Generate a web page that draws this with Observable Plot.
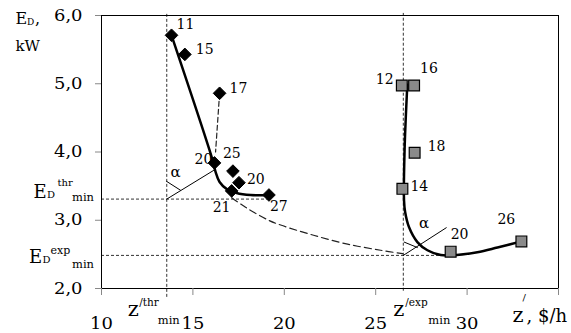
<!DOCTYPE html>
<html>
<head>
<meta charset="utf-8">
<script src="https://cdn.jsdelivr.net/npm/d3@7"></script>
<script src="https://cdn.jsdelivr.net/npm/@observablehq/plot@0.6"></script>
<style>
  html, body { margin: 0; padding: 0; background: #fff; }
  svg { display: block; }
</style>
</head>
<body>
<div id="chart"></div>
<script>
// ---- data ----
const diamondLabels = ["11", "15", "17", "20", "25", "20", "21", "27"];
const diamondX = [13.83, 14.56, 16.46, 16.18, 17.19, 17.52, 17.12, 19.16];
const diamondY = [5.71, 5.43, 4.86, 3.84, 3.72, 3.55, 3.43, 3.37];

const squareLabels = ["12", "16", "18", "14", "20", "26"];
const squareX = [26.43, 27.10, 27.13, 26.46, 29.10, 32.97];
const squareY = [4.975, 4.975, 3.99, 3.46, 2.54, 2.69];

// fitted solid curve (thr)
const thrCurveX = [13.83, 16.08, 16.24, 16.46, 16.84, 17.39, 18.16, 19.14];
const thrCurveY = [5.71, 3.88, 3.71, 3.56, 3.46, 3.40, 3.37, 3.37];
// fitted solid curve (exp)
const expCurveX = [26.73, 26.58, 26.55, 26.61, 26.82, 27.28, 27.83, 28.56, 29.10, 30.56, 31.66, 32.97];
const expCurveY = [4.985, 4.03, 3.29, 3.12, 2.90, 2.68, 2.56, 2.49, 2.485, 2.53, 2.60, 2.69];
// dashed curves
const dash17X = [16.46, 16.24];
const dash17Y = [4.86, 4.00];
const dashCurveX = [17.12, 17.88, 19.14, 19.80, 21.60, 23.46, 25.27, 26.47];
const dashCurveY = [3.33, 3.19, 3.00, 2.93, 2.78, 2.65, 2.56, 2.51];

// reference values
const zThr = 13.57, zExp = 26.51, EThr = 3.31, EExp = 2.485;
// angle construction lines
const alpha1X = [13.57, 16.13], alpha1Y = [3.31, 3.73];
const arc1X = [13.56, 14.32], arc1Y = [3.57, 3.44];
const alpha2X = [26.51, 28.86], alpha2Y = [2.485, 2.89];
const arc2X = [26.56, 27.28], arc2Y = [2.68, 2.60];
const alphaTextX = [14.05, 27.64], alphaTextY = [3.71, 2.95];

// ticks
const xTicks = [10, 15, 20, 25, 30, 35];
const xTickLabels = ["10", "15", "20", "25", "30", ""];
const yTicks = [2, 3, 4, 5, 6];
const yTickLabels = ["2,0", "3,0", "4,0", "5,0", "6,0"];

// texts
const yTitle = ["E", "D", ",", "kW"];
const thrLabel = ["E", "D", "thr", "min"];
const expLabel = ["E", "D", "exp", "min"];
const zThrLabel = ["z", "/thr", "min"];
const zExpLabel = ["z", "/exp", "min"];
const xTitle = ["z", "/", ", $/h"];

// ---- layout (pixel offsets of labels) ----
const diamondDx = [5, 11, 10, -20, -10, 8, -19, 1];
const diamondDy = [-11, -5, -5, -3, -18, -3, 17, 12];
const squareDx = [-26, 6, 13, 8, 0, -24];
const squareDy = [-6, -17, -6, -2, -17, -22];

const diamonds = diamondLabels.map((l, i) => ({x: diamondX[i], y: diamondY[i], l, dx: diamondDx[i], dy: diamondDy[i]}));
const squares = squareLabels.map((l, i) => ({x: squareX[i], y: squareY[i], l, dx: squareDx[i], dy: squareDy[i]}));
const pts = (xs, ys) => xs.map((x, i) => ({x, y: ys[i]}));

function part(xv, yv, txt, dx, dy, size) {
  return Plot.text([txt], {x: xv, y: yv, text: d => d, dx, dy, fontSize: size,
    textAnchor: "start", lineAnchor: "bottom", fill: "#000"});
}

const labelMarks = [];
diamonds.forEach(d => labelMarks.push(Plot.text([d], {x: "x", y: "y", text: "l", dx: d.dx, dy: d.dy, fontSize: 14, textAnchor: "start", fill: "#000"})));
squares.forEach(d => labelMarks.push(Plot.text([d], {x: "x", y: "y", text: "l", dx: d.dx, dy: d.dy, fontSize: 14, textAnchor: "start", fill: "#000"})));

const plot = Plot.plot({
  width: 571,
  height: 333,
  marginLeft: 101,
  marginRight: 13,
  marginTop: 15,
  marginBottom: 45,
  style: "font-family: 'DejaVu Serif', serif; background: #fff; color: #000;",
  x: {domain: [10, 35]},
  y: {domain: [2, 6]},
  marks: [
    // reference dashed lines
    Plot.ruleX([zThr], {y1: 1.87, y2: 6.03, stroke: "#333", strokeWidth: 1, strokeDasharray: "3,2"}),
    Plot.ruleX([zExp], {y1: 1.96, y2: 6.03, stroke: "#333", strokeWidth: 1, strokeDasharray: "3,2"}),
    Plot.ruleY([EThr], {x1: 10, x2: 19.14, stroke: "#333", strokeWidth: 1, strokeDasharray: "3,2"}),
    Plot.ruleY([EExp], {x1: 10, x2: 29.1, stroke: "#333", strokeWidth: 1, strokeDasharray: "3,2"}),
    // dashed curves
    Plot.line(pts(dash17X, dash17Y), {x: "x", y: "y", stroke: "#222", strokeWidth: 1.2, strokeDasharray: "5,3"}),
    Plot.line(pts(dashCurveX, dashCurveY), {x: "x", y: "y", curve: "catmull-rom", stroke: "#222", strokeWidth: 1.2, strokeDasharray: "7,4"}),
    // angle construction
    Plot.line(pts(alpha1X, alpha1Y), {x: "x", y: "y", stroke: "#000", strokeWidth: 1}),
    Plot.line(pts(arc1X, arc1Y), {x: "x", y: "y", stroke: "#000", strokeWidth: 1}),
    Plot.line(pts(alpha2X, alpha2Y), {x: "x", y: "y", stroke: "#000", strokeWidth: 1}),
    Plot.line(pts(arc2X, arc2Y), {x: "x", y: "y", stroke: "#000", strokeWidth: 1}),
    Plot.text(pts(alphaTextX, alphaTextY), {x: "x", y: "y", text: () => "α", fontSize: 15, fill: "#000"}),
    // solid fitted curves
    Plot.line(pts(thrCurveX, thrCurveY), {x: "x", y: "y", curve: "catmull-rom", stroke: "#000", strokeWidth: 2.5}),
    Plot.line(pts(expCurveX, expCurveY), {x: "x", y: "y", curve: "catmull-rom", stroke: "#000", strokeWidth: 2.5}),
    // points
    Plot.dot(diamonds, {x: "x", y: "y", symbol: "diamond2", r: 5.7, fill: "#000", stroke: "#000", strokeWidth: 1}),
    Plot.dot(squares, {x: "x", y: "y", symbol: "square", r: 6.1, fill: "#8a8a8a", stroke: "#000", strokeWidth: 1.2}),
    ...labelMarks,
    // frame and axes
    Plot.frame({stroke: "#000", strokeWidth: 1}),
    Plot.axisY({ticks: yTicks, tickFormat: d => yTickLabels[yTicks.indexOf(d)], tickSize: 6, tickPadding: 13,
      fontSize: 16, label: null, stroke: "#888"}),
    Plot.axisX({ticks: xTicks, tickFormat: d => xTickLabels[xTicks.indexOf(d)], tickSize: 7, tickPadding: 22,
      fontSize: 16, label: null, stroke: "#888"}),
    // y title
    part(10, 6, yTitle[0], -86, 8.5, 16),
    part(10, 6, yTitle[1], -74.5, 9.5, 9),
    part(10, 6, yTitle[2], -66.5, 8.5, 16),
    part(10, 6, yTitle[3], -86, 35, 15),
    // E_D thr min
    part(10, EThr, thrLabel[0], -68, -1.5, 18),
    part(10, EThr, thrLabel[1], -54.5, -1.5, 10),
    part(10, EThr, thrLabel[2], -44, -13.5, 10),
    part(10, EThr, thrLabel[3], -29.5, 1.5, 11.5),
    // E_D exp min
    part(10, EExp, expLabel[0], -72.5, 8, 18),
    part(10, EExp, expLabel[1], -59, 8, 10),
    part(10, EExp, expLabel[2], -51, -1.5, 11),
    part(10, EExp, expLabel[3], -29.5, 13, 11.5),
    // z thr min
    part(zThr, 2, zThrLabel[0], -39, 27, 21),
    part(zThr, 2, zThrLabel[1], -27.5, 17, 10.5),
    part(zThr, 2, zThrLabel[2], -9, 35, 11.5),
    // z exp min
    part(zExp, 2, zExpLabel[0], -10, 27, 21),
    part(zExp, 2, zExpLabel[1], 2, 17, 10.5),
    part(zExp, 2, zExpLabel[2], 25, 35, 11.5),
    // x title
    part(35, 2, xTitle[0], -46, 33.5, 21),
    part(35, 2, xTitle[1], -36, 12, 10),
    part(35, 2, xTitle[2], -32, 33.5, 18)
  ]
});

document.getElementById("chart").appendChild(plot);

// widen axis tick labels slightly, as in the reference
plot.querySelectorAll('g[aria-label="x-axis tick label"] text, g[aria-label="y-axis tick label"] text').forEach(t => {
  const w = t.getComputedTextLength();
  if (w > 0) {
    t.setAttribute("textLength", (w * 1.12).toFixed(1));
    t.setAttribute("lengthAdjust", "spacingAndGlyphs");
  }
});
</script>
</body>
</html>
